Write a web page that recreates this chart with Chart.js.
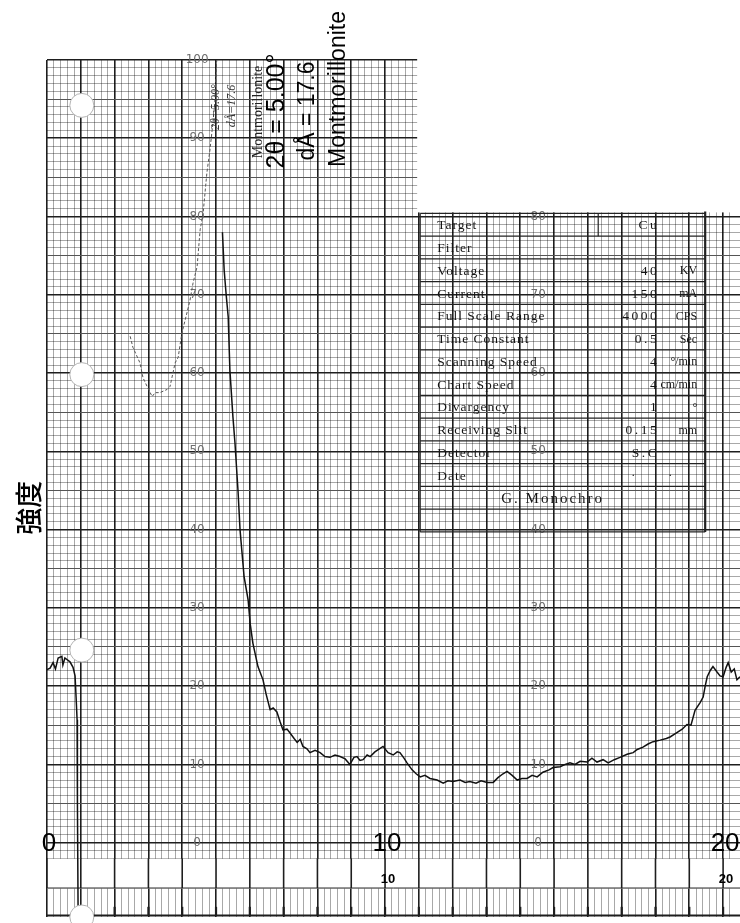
<!DOCTYPE html>
<html>
<head>
<meta charset="utf-8">
<script src="https://cdn.jsdelivr.net/npm/chart.js@4/dist/chart.umd.min.js"></script>
<style>
  html, body { margin: 0; padding: 0; background: #fff; }
</style>
</head>
<body>
<canvas id="xrdChart" width="740" height="923"></canvas>
<script>
// 2θ (deg) and intensity
const startTwoTheta = [0.00, 0.09, 0.18, 0.25, 0.33, 0.44, 0.47, 0.53, 0.59, 0.68, 0.77, 0.83, 0.86, 0.89, 0.90, 0.92];
const startIntensity = [22.1, 22.3, 23.0, 22.2, 23.6, 23.8, 22.7, 23.6, 23.4, 23.1, 22.4, 21.3, 18.6, 15.7, 5.0, -9.0];

// faint pen around the montmorillonite peak (goes off scale near 5°)
const peakTwoTheta = [2.46, 2.54, 2.75, 2.84, 2.96, 3.11, 3.20, 3.34, 3.55, 3.64, 3.70, 3.79, 3.88, 3.99, 4.14, 4.23, 4.32, 4.44, 4.53, 4.62, 4.73, 4.82, 4.91, 4.97, 5.03];
const peakIntensity = [64.7, 63.3, 61.3, 59.4, 58.3, 57.0, 57.5, 57.5, 57.9, 58.3, 59.5, 61.3, 62.0, 65.1, 67.7, 69.3, 71.5, 73.6, 78.3, 80.5, 85.6, 88.5, 92.0, 94.9, 101];

const mainTwoTheta = [5.19, 5.24, 5.30, 5.36, 5.41, 5.50, 5.56, 5.65, 5.71, 5.83, 5.95, 6.01, 6.09, 6.24, 6.39, 6.48, 6.60, 6.69, 6.80, 6.89, 6.98,
  7.10, 7.19, 7.31, 7.40, 7.49, 7.57, 7.69, 7.78, 7.93, 8.08, 8.22, 8.37, 8.52, 8.67, 8.82, 8.96, 9.08, 9.17, 9.26, 9.35,
  9.47, 9.56, 9.70, 9.94, 10.09, 10.24, 10.36, 10.44, 10.56, 10.65, 10.80, 10.92, 11.04, 11.18, 11.33, 11.54, 11.72, 11.86, 12.01, 12.22,
  12.37, 12.51, 12.69, 12.84, 13.02, 13.20, 13.34, 13.49, 13.61, 13.76, 13.91, 14.05, 14.20, 14.35, 14.50, 14.67, 14.85, 14.97, 15.18, 15.33,
  15.47, 15.62, 15.77, 15.98, 16.12, 16.27, 16.45, 16.60, 16.78, 16.95, 17.16, 17.34, 17.46, 17.63, 17.78, 17.93, 18.14, 18.32, 18.43, 18.61,
  18.79, 18.93, 19.05, 19.17, 19.32, 19.41, 19.47, 19.53, 19.62, 19.70, 19.82, 19.91, 20.00, 20.09, 20.15, 20.24, 20.33, 20.41, 20.50];
const mainIntensity = [78.0, 73.2, 70.0, 67.2, 60.4, 54.4, 51.1, 45.0, 40.0, 34.0, 31.0, 28.0, 25.5, 22.5, 20.8, 19.0, 17.0, 17.2, 16.7, 15.5, 14.4,
  14.5, 14.0, 13.3, 12.8, 13.2, 12.3, 12.0, 11.5, 11.8, 11.5, 11.0, 10.9, 11.2, 11.0, 10.7, 10.0, 10.9, 11.0, 10.5, 10.6,
  11.2, 11.0, 11.6, 12.3, 11.5, 11.2, 11.6, 11.5, 10.8, 10.2, 9.3, 8.8, 8.4, 8.6, 8.2, 8.0, 7.6, 7.9, 7.8, 8.0,
  7.7, 7.8, 7.6, 7.9, 7.7, 7.7, 8.3, 8.8, 9.1, 8.6, 8.0, 8.2, 8.2, 8.6, 8.4, 9.0, 9.3, 9.6, 9.7, 10.0,
  10.2, 10.0, 10.4, 10.3, 10.8, 10.3, 10.6, 10.2, 10.6, 10.9, 11.3, 11.5, 11.9, 12.2, 12.6, 12.9, 13.1, 13.3, 13.5, 14.0,
  14.5, 15.1, 15.0, 16.9, 17.9, 18.6, 20.0, 21.2, 22.0, 22.5, 21.8, 21.3, 21.2, 22.4, 23.0, 21.8, 22.2, 20.8, 21.2];

// axis labels
const bigXLabels = [0, 10, 20];
const smallXLabels = [10, 20];
const paperLabelsLeft = [0, 10, 20, 30, 40, 50, 60, 70, 80, 90, 100];
const paperLabelsRight = [0, 10, 20, 30, 40, 50, 60, 70, 80];

// condition table
const tableLabels = ['Target', 'Filter', 'Voltage', 'Current', 'Full Scale Range', 'Time Constant',
  'Scanning Speed', 'Chart Speed', 'Divargency', 'Receiving Slit', 'Detector', 'Date'];
const tableValues = ['Cu', '', '40', '150', '4000', '0.5', '4', '4', '1', '0.15', 'S.C', ''];
const tableUnits = ['', '', 'KV', 'mA', 'CPS', 'Sec', '°/min', 'cm/min', '°', 'mm', '', ''];

const pairs = (xs, ys) => xs.map((x, i) => ({ x: x, y: ys[i] }));
const isWhole = v => Math.abs(v - Math.round(v)) < 1e-6;

function rotatedText(ctx, text, cx, cy, font, color) {
  ctx.save();
  ctx.translate(cx, cy);
  ctx.rotate(-Math.PI / 2);
  ctx.font = font;
  ctx.fillStyle = color;
  ctx.textAlign = 'center';
  ctx.textBaseline = 'middle';
  ctx.fillText(text, 0, 0);
  ctx.restore();
}

function hLine(ctx, x1, x2, y) { ctx.beginPath(); ctx.moveTo(x1, y); ctx.lineTo(x2, y); ctx.stroke(); }
function vLine(ctx, x, y1, y2) { ctx.beginPath(); ctx.moveTo(x, y1); ctx.lineTo(x, y2); ctx.stroke(); }

const paperPlugin = {
  id: 'paper',
  beforeDraw(chart) {
    const ctx = chart.ctx;
    ctx.save();
    ctx.fillStyle = '#fff';
    ctx.fillRect(0, 0, chart.width, chart.height);
    ctx.restore();
  },
  beforeDatasetsDraw(chart) {
    const { ctx, chartArea: a, scales: { x, y } } = chart;
    ctx.save();

    // blank strip under the zero line, only whole-degree lines cross it
    const bandTop = y.getPixelForValue(-2);
    const bandBot = y.getPixelForValue(-5.8);
    ctx.fillStyle = '#fff';
    ctx.fillRect(a.left, bandTop + 0.5, a.right - a.left, bandBot - bandTop);
    ctx.strokeStyle = '#1e1e1e';
    ctx.lineWidth = 1.6;
    for (let v = 0; v <= x.max; v++) vLine(ctx, x.getPixelForValue(v), bandTop, bandBot);
    ctx.lineWidth = 1;
    hLine(ctx, a.left, a.right, bandBot);
    ctx.lineWidth = 2;
    hLine(ctx, a.left, a.right, y.getPixelForValue(-9.3));
    ctx.lineWidth = 2.2;
    for (let v = 1; v <= x.max; v++) vLine(ctx, x.getPixelForValue(v), y.getPixelForValue(-8.2), y.getPixelForValue(-9.3));

    // paper cut away at top right
    const cutLeft = x.getPixelForValue(10.95);
    const cutBottom = y.getPixelForValue(80.4);
    ctx.fillStyle = '#fff';
    ctx.fillRect(cutLeft, 0, a.right - cutLeft + 2, cutBottom - 1);

    // printed scale numbers on the paper
    ctx.font = '12px "DejaVu Sans"';
    ctx.fillStyle = '#6e6e6e';
    ctx.textAlign = 'center';
    ctx.textBaseline = 'middle';
    paperLabelsLeft.forEach(v => ctx.fillText(String(v), x.getPixelForValue(4.44), y.getPixelForValue(v)));
    paperLabelsRight.forEach(v => ctx.fillText(String(v), x.getPixelForValue(14.53), y.getPixelForValue(v)));

    // condition table
    const tl = x.getPixelForValue(11.04), tr = x.getPixelForValue(19.47);
    const tt = y.getPixelForValue(80.4), tb = y.getPixelForValue(39.7);
    const rows = tableLabels.length + 2;
    const rh = (tb - tt) / rows;
    ctx.strokeStyle = '#222';
    ctx.lineWidth = 1.2;
    for (let i = 0; i <= rows; i++) hLine(ctx, tl, tr, tt + i * rh);
    vLine(ctx, tl, tt, tb);
    vLine(ctx, tl + 178, tt, tt + rh);
    ctx.lineWidth = 2.2;
    vLine(ctx, tr, tt - 2, tb);

    ctx.fillStyle = '#151515';
    ctx.textBaseline = 'middle';
    tableLabels.forEach((label, i) => {
      const cy = tt + (i + 0.5) * rh + 1;
      ctx.font = '13.5px "Liberation Serif"';
      ctx.letterSpacing = '1px';
      ctx.textAlign = 'left';
      ctx.fillText(label, tl + 17, cy);
      ctx.letterSpacing = '2.5px';
      ctx.textAlign = 'right';
      if (tableValues[i]) ctx.fillText(tableValues[i], tr - 46, cy);
      ctx.letterSpacing = '0px';
      ctx.font = '12px "Liberation Serif"';
      if (tableUnits[i]) ctx.fillText(tableUnits[i], tr - 8, cy);
      if (label === 'Date') {
        ctx.textAlign = 'center';
        ctx.fillText('·', tr - 72, cy);
        ctx.fillText('·', tr - 35, cy);
      }
    });
    ctx.font = '15px "Liberation Serif"';
    ctx.letterSpacing = '2px';
    ctx.textAlign = 'center';
    ctx.fillText('G. Monochro', (tl + tr) / 2 - 10, tt + (tableLabels.length + 0.5) * rh + 1);
    ctx.letterSpacing = '0px';

    ctx.restore();
  },
  afterDatasetsDraw(chart) {
    const { ctx, scales: { x, y } } = chart;
    ctx.save();

    // punched holes along the left margin
    [94.2, 59.8, 24.6, -9.5].forEach(v => {
      ctx.beginPath();
      ctx.arc(x.getPixelForValue(1.03), y.getPixelForValue(v), 12, 0, Math.PI * 2);
      ctx.fillStyle = '#fff';
      ctx.fill();
      ctx.strokeStyle = '#b5b5b5';
      ctx.lineWidth = 1;
      ctx.stroke();
    });

    // big 2θ numbers on the zero line
    ctx.font = '26px "Liberation Sans"';
    ctx.fillStyle = '#000';
    ctx.textAlign = 'center';
    ctx.textBaseline = 'middle';
    bigXLabels.forEach(v => ctx.fillText(String(v), x.getPixelForValue(v) + 2, y.getPixelForValue(0) + 1));
    ctx.font = 'bold 13px "Liberation Sans"';
    smallXLabels.forEach(v => ctx.fillText(String(v), x.getPixelForValue(v) + 3, y.getPixelForValue(-4.7)));

    // y title
    rotatedText(ctx, '強度', 29, y.getPixelForValue(42.8), '500 27px "Noto Sans CJK JP"', '#000');

    // peak annotations
    rotatedText(ctx, 'Montmorillonite', 339, 89, '23px "Liberation Sans"', '#000');
    rotatedText(ctx, 'dÅ = 17.6', 308, 111, '23px "Liberation Sans"', '#000');
    rotatedText(ctx, '2θ = 5.00°', 277, 111, '25px "Liberation Sans"', '#000');
    rotatedText(ctx, 'Montmorillonite', 258, 112, '14px "Liberation Serif"', '#222');
    rotatedText(ctx, '2θ=5.00°', 216, 107, 'italic 12px "Liberation Serif"', '#333');
    rotatedText(ctx, 'dÅ=17.6', 232, 106, 'italic 12px "Liberation Serif"', '#333');

    ctx.restore();
  }
};

const xGridColor = c => isWhole(c.tick.value) ? '#1e1e1e' : 'rgba(0,0,0,0.34)';
const xGridWidth = c => isWhole(c.tick.value) ? 1.6 : 1;
const yGridColor = c => {
  const v = c.tick.value;
  if (v < -2.001) return 'rgba(0,0,0,0)';
  if (v % 10 === 0) return '#1e1e1e';
  if (v % 5 === 0) return '#555';
  return 'rgba(0,0,0,0.34)';
};
const yGridWidth = c => (c.tick.value % 10 === 0 ? 1.6 : 1);

new Chart(document.getElementById('xrdChart'), {
  type: 'line',
  data: {
    datasets: [
      { data: pairs(startTwoTheta, startIntensity), borderColor: '#111', borderWidth: 1.5, pointRadius: 0 },
      { data: pairs(peakTwoTheta, peakIntensity), borderColor: '#555', borderWidth: 1, borderDash: [3, 2], pointRadius: 0 },
      { data: pairs(mainTwoTheta, mainIntensity), borderColor: '#111', borderWidth: 1.5, pointRadius: 0 }
    ]
  },
  options: {
    responsive: false,
    animation: false,
    events: [],
    layout: { padding: { left: 47, top: 60, right: 0, bottom: 6 } },
    plugins: { legend: { display: false }, tooltip: { enabled: false } },
    scales: {
      x: {
        type: 'linear', min: 0, max: 20.5,
        ticks: { display: false, stepSize: 0.2, autoSkip: false },
        grid: { drawTicks: false, color: xGridColor, lineWidth: xGridWidth },
        border: { display: false }
      },
      y: {
        min: -9.5, max: 100,
        ticks: { display: false, stepSize: 1 },
        grid: { drawTicks: false, color: yGridColor, lineWidth: yGridWidth },
        border: { display: false }
      }
    }
  },
  plugins: [paperPlugin]
});
</script>
</body>
</html>
